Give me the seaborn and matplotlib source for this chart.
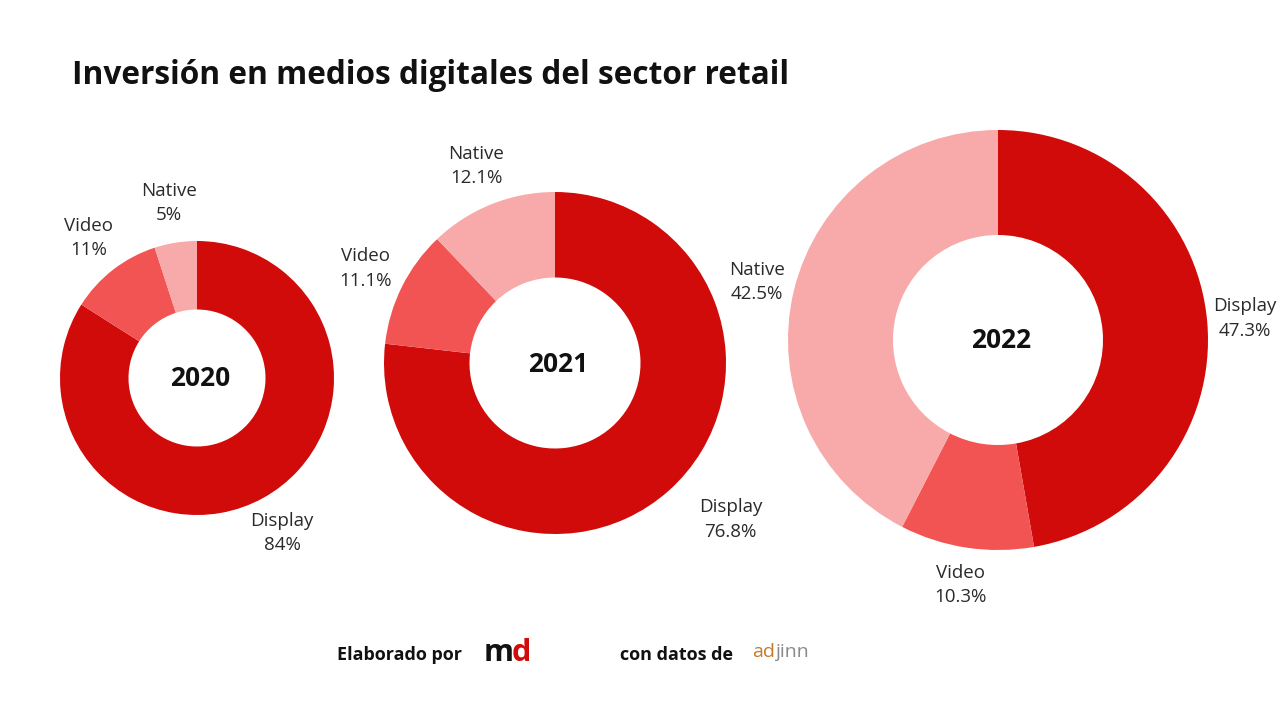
import matplotlib.pyplot as plt
import numpy as np
import seaborn as sns

# data
years = ["2020", "2021", "2022"]
segments = ["Display", "Video", "Native"]
shares_2020 = [84, 11, 5]
shares_2021 = [76.8, 11.1, 12.1]
shares_2022 = [47.3, 10.3, 42.5]
label_2020 = ["84%", "11%", "5%"]
label_2021 = ["76.8%", "11.1%", "12.1%"]
label_2022 = ["47.3%", "10.3%", "42.5%"]

colors = ["#d10a0a", "#f25454", "#f8a9a9"]

sns.set_theme(style="white")
plt.rcParams['font.family'] = ['Open Sans', 'DejaVu Sans']

fig = plt.figure(figsize=(12.8, 7.2), dpi=100)
fig.patch.set_facecolor("white")
ax = fig.add_axes([0, 0, 1, 1])
ax.set_xlim(0, 1280)
ax.set_ylim(0, 720)
ax.set_aspect("equal")
ax.axis("off")

# layout in pixels (y up): centre, radius, label offsets (px) and angle shifts (deg)
layout = [
    ((197, 342), 137, [40, 40, 40], [0, 0, 0]),
    ((555, 357), 171, [64, 41, 41], [6.5, 0, 0]),
    ((998, 380), 210, [38, 38, 38], [0, 0, 0]),
]

for year, vals, labs, (center, R, offs, dth) in zip(
        years, [shares_2020, shares_2021, shares_2022],
        [label_2020, label_2021, label_2022], layout):
    wedges, _ = ax.pie(vals, colors=colors, startangle=90, counterclock=False,
                       center=center, radius=R, normalize=True,
                       wedgeprops=dict(width=R * 0.5, linewidth=0))
    for w, seg, lab, off, d in zip(wedges, segments, labs, offs, dth):
        th = np.deg2rad((w.theta1 + w.theta2) / 2 + d)
        r = R + off
        ax.text(center[0] + r * np.cos(th), center[1] + r * np.sin(th),
                f"{seg}\n{lab}", ha="center", va="center", fontsize=13.5,
                color="#2a2a2a", linespacing=1.45)
    ax.text(center[0] + 3, center[1] - 1, year, ha="center", va="center",
            fontsize=19, fontweight="bold", color="#111111")

ax.set_xlim(0, 1280)
ax.set_ylim(0, 720)

fig.text(72 / 1280, 1 - 76 / 720, "Inversión en medios digitales del sector retail",
         ha="left", va="center", fontsize=22.8, fontweight="bold", color="#111111")

# footer
fig.text(337 / 1280, 1 - 655 / 720, "Elaborado por", ha="left", va="center",
         fontsize=13, fontweight="bold", color="#111111")
fig.text(484 / 1280, 1 - 653 / 720, "m", ha="left", va="center",
         fontsize=22, fontweight="bold", color="#111111")
fig.text(512 / 1280, 1 - 653 / 720, "d", ha="left", va="center",
         fontsize=22, fontweight="bold", color="#d10a0a")
fig.text(620 / 1280, 1 - 655 / 720, "con datos de", ha="left", va="center",
         fontsize=13, fontweight="bold", color="#111111")
fig.text(752 / 1280, 1 - 652 / 720, "ad", ha="left", va="center",
         fontsize=14, color="#c8782a")
fig.text(775 / 1280, 1 - 652 / 720, "jinn", ha="left", va="center",
         fontsize=14, color="#8a8a8a")

fig.savefig("out.png", dpi=100, facecolor="white")
